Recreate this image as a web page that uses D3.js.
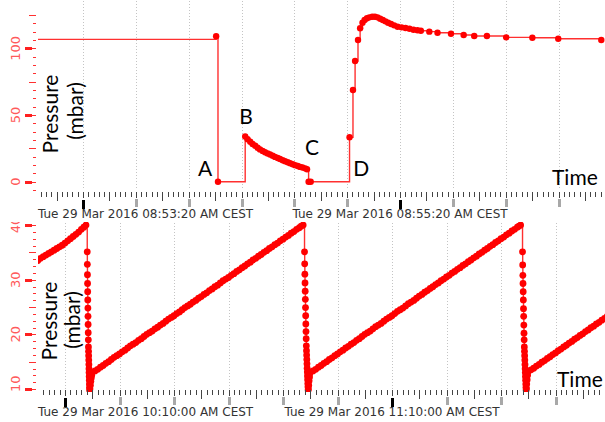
<!DOCTYPE html>
<html><head><meta charset="utf-8">
<script src="https://cdn.jsdelivr.net/npm/d3@7"></script>
<style>body{margin:0;background:#fff} svg{display:block}</style>
</head><body>
<svg id="c" width="605" height="422"></svg>
<script>
// ---------- DATA ----------
const upperStart = "2016-03-29T08:53:20Z";   // displayed as CEST
const upperSeconds = [-60, 50.4, 51.1,
  61.4, 62.3, 63.3, 64.2, 65.2, 66.1, 67.0, 68.0, 68.9, 69.9, 70.8, 71.8, 72.7, 73.7, 74.6, 75.6, 76.5, 77.5, 78.4, 79.4, 80.3, 81.3, 82.2, 83.1, 84.1, 84.8,
  85.4, 86.2,
  100.9, 102.2, 103.0, 104.1, 104.9, 105.8, 106.6, 107.5, 108.4, 109.5, 110.5, 111.5, 112.5, 113.5, 114.5, 115.5, 116.6, 117.8, 119.1, 120.6, 122.1, 123.6, 125.1, 126.6, 127.9, 131.1, 134.2, 139.3, 144.1, 148.1, 152.9, 160.2, 170.1, 179.9, 196.2];
const upperValues = [106.7, 109.0, 0,
  33.9, 31.8, 30.0, 28.3, 26.9, 25.5, 24.2, 23.1, 22.1, 21.2, 20.4, 19.4, 18.6, 17.8, 17.0, 16.1, 15.3, 14.6, 13.8, 13.1, 12.4, 11.8, 11.1, 10.6, 10.0, 9.3,
  0, 0,
  33.3, 68.7, 90.5, 106.2, 115.0, 119.2, 121.2, 122.5, 123.2, 123.7, 123.7, 123.2, 122.2, 121.2, 120.2, 119.2, 118.2, 117.2, 116.2, 115.7, 115.2, 114.7, 113.9, 113.5, 113.2, 112.5, 111.7, 110.9, 110.0, 109.2, 109.2, 108.2, 107.9, 107.2, 106.2];

const lowerStart = "2016-03-29T10:10:00Z";   // [minutes offset, pressure]
const lowerSeries = [
  [-6,32.8],[-5.5,33.2],[-5,33.5],[-4.5,33.9],[-4,34.2],[-3.5,34.5],[-3,34.8],[-2.5,35.1],[-2,35.4],[-1.5,35.7],[-1,36.0],[-0.5,36.3],[0,36.7],[0.5,37.1],[1,37.5],[1.5,37.9],[2,38.3],[2.5,38.7],[3,39.2],[3.45,39.6],[3.85,40.0],
  [4.08,35.1],[4.10,32.8],[4.12,30.9],[4.14,29.3],[4.16,27.8],[4.18,26.3],[4.20,24.8],[4.22,23.3],[4.24,21.8],[4.26,20.3],[4.28,19.0],[4.30,17.7],[4.32,16.9],[4.34,16.1],[4.36,15.3],[4.38,14.5],[4.40,13.7],[4.42,13.0],[4.44,12.3],[4.46,11.6],[4.48,10.9],[4.50,10.3],[4.52,9.8],[4.58,10.0],[4.66,10.7],[4.74,11.4],[4.82,12.0],[4.90,12.5],[4.95,12.9],
  [5.5,13.3],[6,13.6],[6.5,14.0],[7,14.3],[7.5,14.7],[8,15.0],[8.5,15.4],[9,15.8],[9.5,16.1],[10,16.4],[10.5,16.8],[11,17.1],[11.5,17.5],[12,17.9],[12.5,18.2],[13,18.5],[13.5,18.9],[14,19.2],[14.5,19.6],[15,20.0],[15.5,20.3],[16,20.6],[16.5,21.0],[17,21.3],[17.5,21.7],[18,22.0],[18.5,22.4],[19,22.8],[19.5,23.1],[20,23.4],[20.5,23.8],[21,24.1],[21.5,24.5],[22,24.9],[22.5,25.2],[23,25.5],[23.5,25.9],[24,26.2],[24.5,26.6],[25,26.9],[25.5,27.3],[26,27.6],[26.5,28.0],[27,28.3],[27.5,28.7],[28,29.0],[28.5,29.4],[29,29.8],[29.5,30.1],[30,30.4],[30.5,30.8],[31,31.1],[31.5,31.5],[32,31.8],[32.5,32.2],[33,32.5],[33.5,32.9],[34,33.2],[34.5,33.6],[35,33.9],[35.5,34.3],[36,34.6],[36.5,35.0],[37,35.3],[37.5,35.7],[38,36.0],[38.5,36.4],[39,36.7],[39.5,37.1],[40,37.4],[40.5,37.8],[41,38.1],[41.5,38.5],[42,38.8],[42.5,39.2],[43,39.5],[43.35,39.8],[43.7,40.0],
  [43.95,35.1],[43.98,32.9],[44.01,31.0],[44.04,29.4],[44.07,27.9],[44.10,26.4],[44.13,24.9],[44.16,23.4],[44.19,21.9],[44.22,20.5],[44.25,19.2],[44.28,17.9],[44.31,17.0],[44.34,16.2],[44.37,15.4],[44.40,14.6],[44.43,13.8],[44.46,13.1],[44.49,12.4],[44.52,11.7],[44.55,11.0],[44.58,10.4],[44.61,9.8],[44.66,10.0],[44.72,10.7],[44.79,11.5],[44.87,12.2],[44.95,12.9],
  [45.5,13.3],[46,13.6],[46.5,14.0],[47,14.3],[47.5,14.7],[48,15.0],[48.5,15.4],[49,15.7],[49.5,16.1],[50,16.4],[50.5,16.8],[51,17.1],[51.5,17.5],[52,17.8],[52.5,18.2],[53,18.5],[53.5,18.9],[54,19.2],[54.5,19.6],[55,20.0],[55.5,20.3],[56,20.6],[56.5,21.0],[57,21.4],[57.5,21.7],[58,22.0],[58.5,22.4],[59,22.8],[59.5,23.1],[60,23.4],[60.5,23.8],[61,24.2],[61.5,24.5],[62,24.8],[62.5,25.2],[63,25.6],[63.5,25.9],[64,26.2],[64.5,26.6],[65,27.0],[65.5,27.3],[66,27.7],[66.5,28.0],[67,28.4],[67.5,28.7],[68,29.1],[68.5,29.4],[69,29.8],[69.5,30.1],[70,30.5],[70.5,30.8],[71,31.2],[71.5,31.5],[72,31.9],[72.5,32.2],[73,32.6],[73.5,32.9],[74,33.3],[74.5,33.6],[75,34.0],[75.5,34.3],[76,34.7],[76.5,35.0],[77,35.4],[77.5,35.7],[78,36.1],[78.5,36.4],[79,36.8],[79.5,37.1],[80,37.5],[80.5,37.8],[81,38.2],[81.5,38.5],[82,38.9],[82.5,39.2],[83,39.6],[83.3,39.8],[83.6,40.0],
  [83.95,35.1],[83.98,32.7],[84.01,30.8],[84.04,29.3],[84.07,27.8],[84.10,26.3],[84.13,24.7],[84.16,23.3],[84.19,21.7],[84.22,20.2],[84.25,19.0],[84.28,17.7],[84.31,16.9],[84.34,16.1],[84.37,15.3],[84.40,14.5],[84.43,13.7],[84.46,13.0],[84.49,12.3],[84.52,11.6],[84.55,10.9],[84.58,10.3],[84.61,9.8],[84.66,10.1],[84.72,10.9],[84.80,11.7],[84.88,12.5],[84.95,13.1],
  [85.5,13.5],[86,13.8],[86.5,14.2],[87,14.5],[87.5,14.9],[88,15.2],[88.5,15.6],[89,15.9],[89.5,16.3],[90,16.6],[90.5,17.0],[91,17.3],[91.5,17.7],[92,18.0],[92.5,18.4],[93,18.7],[93.5,19.1],[94,19.4],[94.5,19.8],[95,20.1],[95.5,20.5],[96,20.8],[96.5,21.2],[97,21.5],[97.5,21.9],[98,22.2],[98.5,22.6],[99,22.9],[99.5,23.3],[100,23.6]
];

const upperYTickLabels = [0, 50, 100];
const lowerYTickLabels = [10, 20, 30, 40];
const annotations = [
  {label: "A", s: 46.2, v: 4.3},
  {label: "B", s: 61.7, v: 43.3},
  {label: "C", s: 86.7, v: 20.0},
  {label: "D", s: 105.3, v: 4.3}
];
const yTitleLines = ["Pressure", "(mbar)"];
const xTitle = "Time";
const tzSuffix = " CEST";

// ---------- LAYOUT ----------
const svg = d3.select("#c");
const plotL = 38, plotR = 605;
const P1 = {top: 0, bottom: 190, tickY: 192};
const P2 = {top: 222, bottom: 392, tickY: 390};
const RED = "#ff0000";

const t0 = new Date(upperStart);
const b0 = new Date(lowerStart);
const xTop = d3.scaleUtc().domain([t0, d3.utcSecond.offset(t0, 120)]).range([83, 400]);
const yTop = d3.scaleLinear().domain([0, 100]).range([181.7, 48.3]);
const xBot = d3.scaleUtc().domain([b0, d3.utcMinute.offset(b0, 60)]).range([65, 392]);
const yBot = d3.scaleLinear().domain([10, 40]).range([389, 225]);

const upperData = upperSeconds.map((s, i) => ({t: new Date(+t0 + s * 1000), v: upperValues[i]}));
const lowerData = lowerSeries.map(([m, v]) => ({t: new Date(+b0 + m * 60000), v}));

const defs = svg.append("defs");
function clip(id, x, y, w, h) {
  defs.append("clipPath").attr("id", id).append("rect").attr("x", x).attr("y", y).attr("width", w).attr("height", h);
}
clip("cTop", plotL, P1.top, plotR - plotL, P1.bottom - P1.top);
clip("cBot", plotL, P2.top, plotR - plotL, P2.bottom - P2.top);
clip("cBotAxis", 0, P2.top, plotL, P2.bottom - P2.top + 2);

const fmt = d3.utcFormat("%a %d %b %Y %I:%M:%S %p");

function panel(P, xs, ys, data, r, gridTicks, minorTicks, isMed, isLabel, clipId) {
  svg.append("g").selectAll("line").data(gridTicks).join("line")
    .attr("x1", d => Math.round(xs(d)) + 0.5).attr("x2", d => Math.round(xs(d)) + 0.5)
    .attr("y1", P.top + 1).attr("y2", P.bottom)
    .attr("stroke", "#c4c4c4").attr("stroke-width", 1).attr("stroke-dasharray", "1,2");
  const g = svg.append("g").attr("clip-path", `url(#${clipId})`);
  const line = d3.line().curve(d3.curveStepAfter).x(d => xs(d.t)).y(d => ys(d.v));
  g.append("path").datum(data).attr("d", line).attr("fill", "none")
    .attr("stroke", "#ff3030").attr("stroke-width", 1.4);
  g.selectAll("circle").data(data).join("circle")
    .attr("cx", d => xs(d.t)).attr("cy", d => ys(d.v)).attr("r", r).attr("fill", RED);
  const tg = svg.append("g");
  const gridSet = new Set(gridTicks.map(d => +d));
  minorTicks.forEach(d => {
    const x = Math.round(xs(d)) + 0.5;
    if (x < 40 || x > 605) return;
    const y0 = P.tickY;
    if (gridSet.has(+d)) {
      tg.append("line").attr("x1", x).attr("x2", x).attr("y1", y0).attr("y2", y0 + 6).attr("stroke", "#444");
      if (isLabel(d)) {
        tg.append("rect").attr("x", x - 1.5).attr("y", y0 + 8).attr("width", 3).attr("height", 9).attr("fill", "#000");
      } else {
        tg.append("rect").attr("x", x - 1.5).attr("y", y0 + 7).attr("width", 3).attr("height", 8).attr("fill", "#a8a8a8");
      }
    } else {
      const len = isMed(d) ? 9 : 5;
      tg.append("line").attr("x1", x).attr("x2", x).attr("y1", y0).attr("y2", y0 + len).attr("stroke", "#444");
    }
  });
  gridTicks.filter(isLabel).forEach(d => {
    const x = xs(d);
    const t = tg.append("text").text(fmt(d) + tzSuffix)
      .attr("font-family", "DejaVu Sans").attr("font-size", 12).attr("fill", "#333")
      .attr("y", P.tickY + 26);
    const w = t.node().getComputedTextLength();
    let left = x - w / 2;
    if (left < plotL) left = plotL;
    if (left + w > plotR) left = plotR - w;
    t.attr("x", left);
  });
}

function yAxis(P, ys, start, step, count, labels, clipId) {
  const g = svg.append("g");
  if (clipId) g.attr("clip-path", `url(#${clipId})`);
  for (let k = 0; k < count; k++) {
    const v = start + k * step;
    const y = Math.round(ys(v)) + 0.5;
    if (y < P.top - 4 || y > P.bottom + 1) continue;
    const idx = Math.round((v - labels[0]) / step);
    if (idx % 8 === 0) {
      g.append("rect").attr("x", 25).attr("y", y - 1.5).attr("width", 7).attr("height", 3).attr("fill", "#ff2020");
      g.append("line").attr("x1", 32).attr("x2", 36).attr("y1", y).attr("y2", y).attr("stroke", "#ff3030");
    } else if (idx % 4 === 0) {
      g.append("line").attr("x1", 29).attr("x2", 36).attr("y1", y).attr("y2", y).attr("stroke", "#ff3030");
    } else {
      g.append("line").attr("x1", 33).attr("x2", 36).attr("y1", y).attr("y2", y).attr("stroke", "#ff3030");
    }
  }
  labels.forEach(v => {
    const t = g.append("text").text(v)
      .attr("font-family", "DejaVu Sans").attr("font-size", 13).attr("fill", "#ff5a5a")
      .attr("text-anchor", "middle");
    const w = t.node().getComputedTextLength();
    let cy = ys(v);
    if (cy + w / 2 > P.bottom) cy = P.bottom - w / 2;
    t.attr("transform", `translate(20,${cy}) rotate(-90)`);
  });
}

// top panel
const topDom = [xTop.invert(plotL), xTop.invert(plotR)];
panel(P1, xTop, yTop, upperData, 3.2,
  d3.utcSecond.every(20).range(topDom[0], topDom[1]),
  d3.utcSecond.every(2).range(topDom[0], topDom[1]),
  d => d.getUTCSeconds() % 10 === 0,
  d => ((d - t0) % 120000 + 120000) % 120000 === 0,
  "cTop");
yAxis(P1, yTop, -6.25, 6.25, 22, upperYTickLabels, null);

// bottom panel
const botDom = [xBot.invert(plotL), xBot.invert(plotR)];
panel(P2, xBot, yBot, lowerData, 3.4,
  d3.utcMinute.every(10).range(botDom[0], botDom[1]),
  d3.utcMinute.every(1).range(botDom[0], botDom[1]),
  d => d.getUTCMinutes() % 5 === 0,
  d => ((d - b0) % 3600000 + 3600000) % 3600000 === 0,
  "cBot");
yAxis(P2, yBot, 10, 1.25, 26, lowerYTickLabels, "cBotAxis");

// titles
const titleFont = "Lato, 'Open Sans', sans-serif";
function yTitle(xs, cys) {
  yTitleLines.forEach((s, i) => {
    svg.append("text").text(s).attr("font-family", titleFont).attr("font-size", 21)
      .attr("text-anchor", "middle").attr("fill", "#000")
      .attr("transform", `translate(${xs[i]},${cys[i]}) rotate(-90)`);
  });
}
yTitle([58, 82.5], [114, 111]);
yTitle([57, 79.5], [321, 320]);

svg.append("text").text(xTitle).attr("x", 552).attr("y", 185)
  .attr("font-family", titleFont).attr("font-size", 21).attr("fill", "#000");
svg.append("text").text(xTitle).attr("x", 557).attr("y", 387)
  .attr("font-family", titleFont).attr("font-size", 21).attr("fill", "#000");

svg.append("g").selectAll("text").data(annotations).join("text")
  .text(d => d.label)
  .attr("x", d => xTop(new Date(+t0 + d.s * 1000)))
  .attr("y", d => yTop(d.v))
  .attr("text-anchor", "middle")
  .attr("font-family", titleFont).attr("font-size", 21).attr("fill", "#000");
</script>
</body></html>
